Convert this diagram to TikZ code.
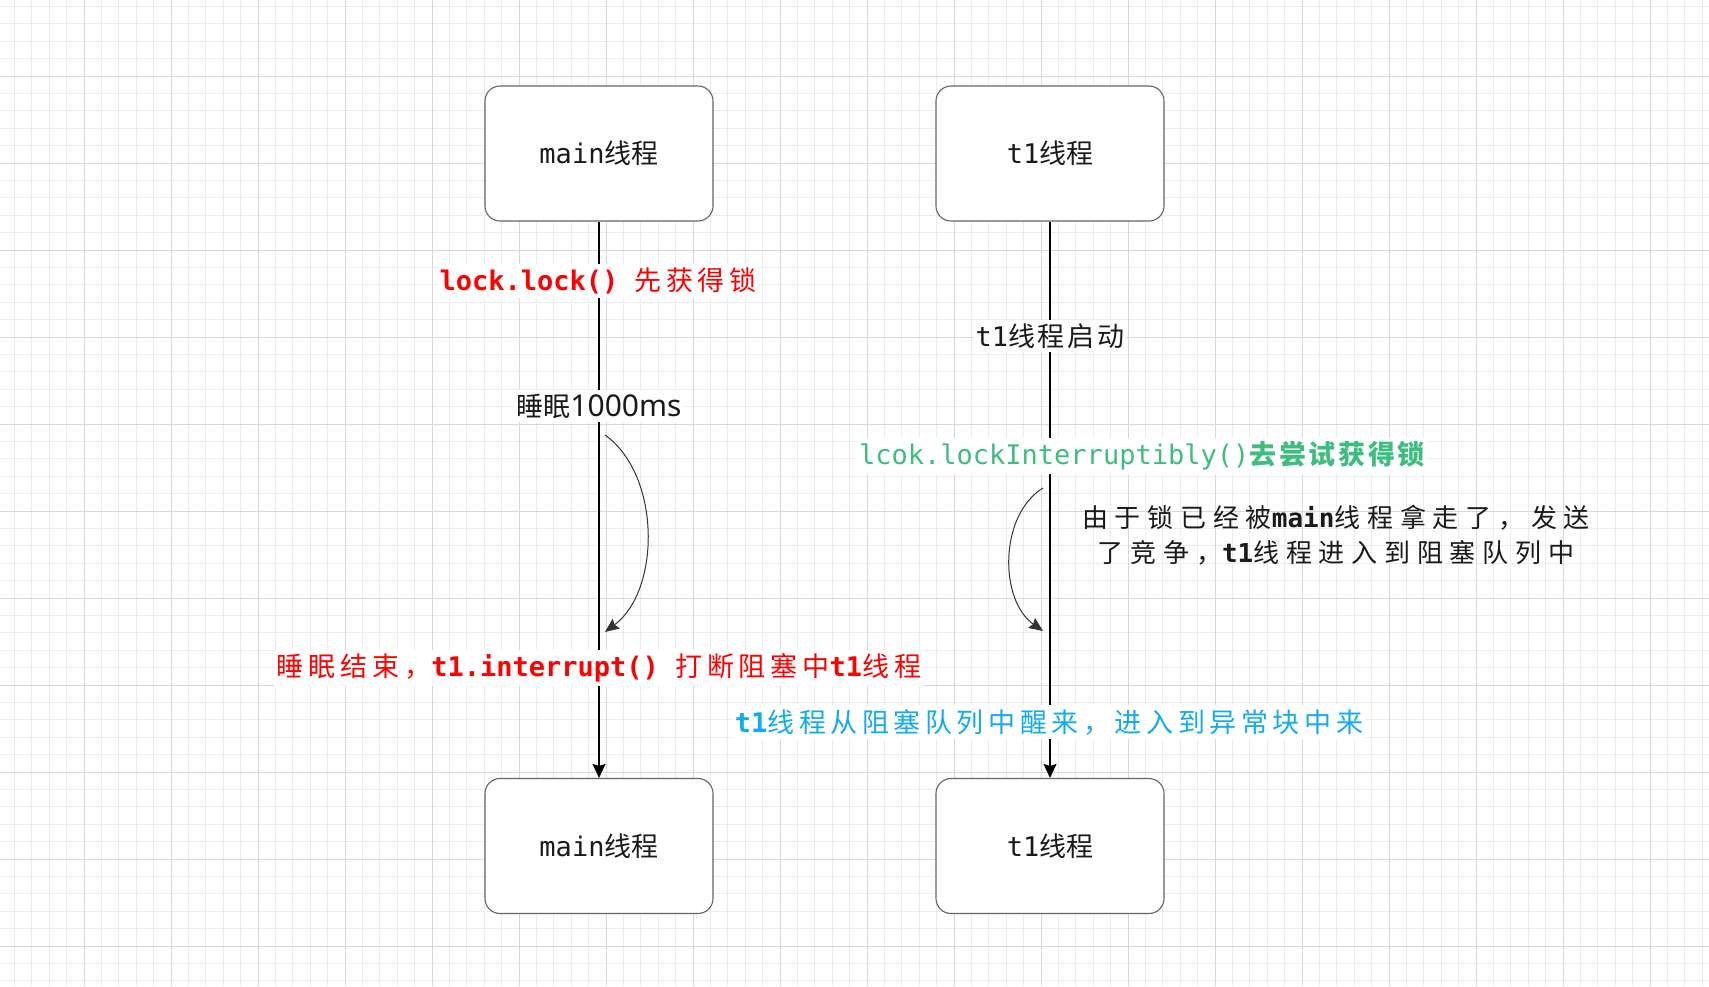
\documentclass[tikz,border=0pt]{standalone}
\usepackage{fontspec}
\setmainfont{Noto Sans CJK SC}
\newfontfamily\cjk{Noto Sans CJK SC}
\newfontfamily\cjkA[LetterSpace=10]{Noto Sans CJK SC}
\newfontfamily\cjkB[LetterSpace=17]{Noto Sans CJK SC}
\newfontfamily\cjkR[LetterSpace=18]{Noto Sans CJK SC}
\newfontfamily\cjkC[LetterSpace=26]{Noto Sans CJK SC}
\newfontfamily\mono{DejaVu Sans Mono}
\newfontfamily\nsans{Noto Sans}
\usetikzlibrary{arrows.meta}
\definecolor{gridminor}{RGB}{236,236,236}
\definecolor{gridmajor}{RGB}{216,216,216}
\definecolor{boxline}{RGB}{100,100,100}
\definecolor{lblred}{RGB}{255,0,0}
\definecolor{lblgreen}{RGB}{61,190,126}
\definecolor{lblblue}{RGB}{20,170,240}
\definecolor{txt}{RGB}{26,26,26}
\begin{document}
\begin{tikzpicture}[x=1pt,y=-1pt,
  box/.style={draw=boxline, line width=1.1pt, fill=white, rounded corners=15pt,
    minimum width=228pt, minimum height=135pt, inner sep=0pt,
    font=\fontsize{27}{33}\selectfont, text=txt},
  conn/.style={line width=1.3pt, -{Stealth[length=14pt,width=13pt,inset=2pt]}},
  curv/.style={line width=1pt, draw=black!80, -{Stealth[length=14pt,width=12pt,inset=2pt]}},
  lbl/.style={fill=white, inner xsep=2pt, inner ysep=4pt, font=\fontsize{27}{33}\selectfont, text=txt},
  gmin/.style={draw=gridminor, line width=1pt},
  gmaj/.style={draw=gridmajor, line width=1pt},
]
\useasboundingbox (0,0) rectangle (1709,986);
\fill[white] (0,0) rectangle (1709,986);
% grid
\foreach \i in {1,...,98}{\draw[gmin] ({-3+17.4*\i},0) -- ({-3+17.4*\i},986);}
\foreach \i in {1,...,57}{\draw[gmin] (0,{-11+17.4*\i}) -- (1709,{-11+17.4*\i});}
\foreach \i in {1,...,19}{\draw[gmaj] ({-3+87*\i},0) -- ({-3+87*\i},986);}
\foreach \i in {1,...,11}{\draw[gmaj] (0,{-11+87*\i}) -- (1709,{-11+87*\i});}

% boxes
\node[box] (m1) at (599,153.5) {{\mono main}线程};
\node[box] (t1a) at (1050,153.5) {{\mono t1}线程};
\node[box] (m2) at (599,846) {{\mono main}线程};
\node[box] (t1b) at (1050,846) {{\mono t1}线程};

% connectors
\draw[conn] (m1) -- (m2);
\draw[conn] (t1a) -- (t1b);

% curved arrows
\coordinate (c1s) at (605,435);
\coordinate (c1e) at (605,632);
\draw[curv] (c1s) .. controls (661,475) and (661,590) .. (c1e);
\coordinate (c2s) at (1043,488);
\coordinate (c2e) at (1043,631);
\draw[curv] (c2s) .. controls (999,515) and (999,600) .. (c2e);

% labels
\node[lbl, text=lblred] (l1) at (598,281) {{\mono\bfseries lock.lock()\ }\cjkB 先获得锁};
\node[lbl] (l2) at (599,406) {\cjk 睡眠{\nsans\fontsize{30}{33}\selectfont 1000ms}};
\node[lbl, text=lblred] (l3) at (599,668) {\cjkR 睡眠结束，{\mono\bfseries t1.interrupt()\ }打断阻塞中{\mono\bfseries t1}线程};
\node[lbl] (l4) at (1050,336) {{\mono t1}\cjkA 线程启动};
\node[lbl, text=lblgreen] (l5) at (1142,456) {{\mono lcok.lockInterruptibly()}\cjkA\bfseries 去尝试获得锁};
\node[align=center, text=txt, font=\fontsize{26}{35}\selectfont] (l6) at (1336,535)
  {\cjkC 由于锁已经被{\mono\bfseries main}线程拿走了，发送\\ \cjkC 了竞争，{\mono\bfseries t1}线程进入到阻塞队列中};
\node[lbl, text=lblblue] (l7) at (1049,722) {{\mono\bfseries t1}\cjkB 线程从阻塞队列中醒来，进入到异常块中来};
\end{tikzpicture}
\end{document}
